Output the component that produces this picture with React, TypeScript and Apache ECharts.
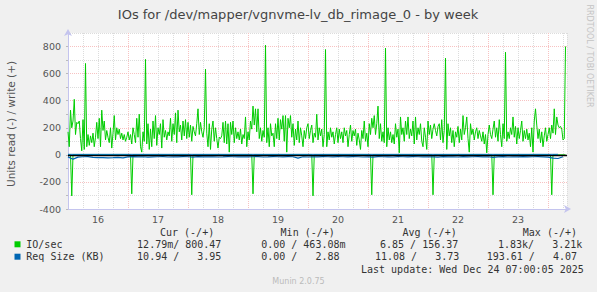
import React, { useEffect, useRef } from "react";
import * as echarts from "echarts";

const TITLE = "IOs for /dev/mapper/vgnvme-lv_db_rimage_0 - by week";
const Y_NAME = "Units read (-) / write (+)";
const dayLabels = ["16", "17", "18", "19", "20", "21", "22", "23"];
const yTickValues = [-400, -200, 0, 200, 400, 600, 800];

// IO/sec write (+), 30-minute samples starting Dec 16 00:00
const writeDay16 = [170, 60, 330, 200, 250, 410, 150, 240, 230, 250, 120, 30, 260, 40, 675, 60, 150, 70, 140, 90, 160, 60, 130, 240, 120, 270, 60, 330, 180, 250, 110, 180, 130, 90, 200, 50, 160, 290, 110, 200, 150, 190, 120, 160, 110, 150, 100, 130];
const writeDay17 = [170, 110, 150, 80, 200, 150, 90, 270, 130, 300, 60, 20, 170, 100, 705, 80, 230, 40, 190, 60, 250, 120, 290, 70, 200, 150, 230, 50, 260, 130, 180, 110, 170, 140, 270, 100, 230, 150, 310, 90, 330, 170, 220, 110, 250, 140, 260, 120];
const writeDay18 = [240, 130, 220, 100, 210, 170, 140, 230, 340, 150, 240, 170, 130, 200, 633, 160, 60, 230, 40, 190, 250, 100, 200, 120, 50, 130, 120, 140, 240, 90, 250, 80, 230, 20, 240, 150, 250, 90, 200, 120, 170, 110, 190, 80, 150, 120, 280, 60];
const writeDay19 = [170, 110, 250, 190, 360, 220, 340, 170, 340, 120, 200, 100, 180, 130, 810, 90, 200, 60, 230, 140, 160, 60, 230, 120, 270, 110, 260, 190, 290, 100, 290, 20, 270, 200, 290, 130, 230, 70, 190, 110, 250, 90, 200, 140, 60, 180, 120, 200];
const writeDay20 = [230, 120, 180, 220, 90, 160, 130, 300, 110, 200, 140, 190, 60, 150, 778, 60, 170, 110, 200, 130, 170, 80, 150, 200, 90, 190, 120, 170, 90, 200, 140, 180, 60, 150, 220, 100, 180, 140, 190, 70, 160, 110, 40, 180, 120, 250, 100, 160];
const writeDay21 = [60, 230, 150, 270, 200, 290, 150, 230, 360, 120, 230, 100, 170, 90, 788, 60, 200, 110, 170, 90, 150, 80, 230, 130, 190, 15, 280, 150, 200, 100, 250, 150, 280, 120, 190, 140, 250, 80, 280, 110, 200, 150, 230, 100, 60, 200, 130, 40];
const writeDay22 = [250, 150, 220, 120, 190, 230, 180, 140, 210, 230, 110, 260, 90, 180, 714, 40, 230, 140, 200, 90, 180, 60, 170, 130, 210, 90, 190, 110, 290, 150, 200, 280, 120, 20, 230, 150, 190, 110, 170, 200, 120, 180, 140, 100, 170, 80, 150, 15];
const writeDay23 = [150, 220, 150, 120, 190, 250, 130, 200, 100, 260, 150, 60, 230, 120, 758, 100, 170, 120, 200, 150, 280, 130, 210, 80, 200, 120, 180, 250, 100, 180, 120, 190, 110, 160, 60, 200, 20, 250, 340, 220, 120, 190, 90, 170, 60, 140, 200, 100];
const writeDay24 = [150, 200, 120, 220, 160, 340, 150, 280, 220, 200, 210, 190, 110, 120, 800.47];

// IO/sec read (-): zero except the nightly bursts
const readSpikeHours = [1.5, 25.5, 49.5, 74, 98, 121.5, 146, 170, 193.5];
const readSpikeValues = [303, 288, 295, 288, 303, 295, 295, 295, 295];

// Req Size (KB) read (-), 2-hour samples
const reqReadKB = [
  15, 32, 17, 14, 13, 19, 21, 20, 22, 21, 18, 22,
  15, 13, 15, 14, 17, 15, 14, 13, 16, 14, 15, 13,
  14, 17, 13, 15, 14, 15, 16, 15, 13, 14, 15, 14,
  15, 14, 13, 16, 15, 13, 14, 15, 13, 14, 24, 14,
  16, 15, 15, 13, 14, 15, 13, 14, 15, 13, 14, 16,
  15, 17, 13, 14, 15, 16, 13, 14, 15, 13, 14, 15,
  14, 15, 17, 13, 15, 14, 16, 13, 15, 14, 13, 15,
  14, 19, 15, 13, 16, 14, 15, 13, 15, 14, 13, 15,
  17, 24, 27, 14,
];
// Req Size (KB) write (+), 4-hour samples
const reqWriteKB = [
  3.8, 3.7, 3.6, 3.8, 3.7, 3.9, 3.8, 3.7, 3.6, 3.8, 3.7, 3.9, 3.8, 3.7, 3.6, 3.8, 3.7,
  3.9, 3.8, 3.7, 3.6, 3.8, 3.7, 3.9, 3.8, 3.7, 3.6, 3.8, 3.7, 3.9, 3.8, 3.7, 3.6, 3.8,
  3.7, 3.9, 3.8, 3.7, 3.6, 3.8, 3.7, 3.9, 3.8, 3.7, 3.6, 3.8, 3.7, 3.9, 3.8, 3.95,
];

const legendHeaders = ["Cur (-/+)", "Min (-/+)", "Avg (-/+)", "Max (-/+)"];
const legendNames = ["IO/sec", "Req Size (KB)"];
const ioStats = ["12.79m/ 800.47", "0.00 / 463.08m", "6.85 / 156.37", "1.83k/   3.21k"];
const reqStats = ["10.94 /   3.95", "0.00 /   2.88", "11.08 /   3.73", "193.61 /   4.07"];
const LAST_UPDATE = "Last update: Wed Dec 24 07:00:05 2025";
const FOOTER = "Munin 2.0.75";
const WATERMARK = "RRDTOOL / TOBI OETIKER";

const GREEN = "#00cc00";
const BLUE = "#0066b3";
const RED_GRID = "#f7c2c2";
const GRAY_GRID = "#dcdcdc";
const AXIS = "#c4c4ee";
const MONO = "'DejaVu Sans Mono', monospace";
const SANS = "'DejaVu Sans', sans-serif";

export default function App() {
  const ref = useRef<HTMLDivElement>(null);
  useEffect(() => {
    if (!ref.current) return;
    const chart = echarts.init(ref.current, undefined, { renderer: "svg" });

    const writeIO = [
      ...writeDay16, ...writeDay17, ...writeDay18, ...writeDay19,
      ...writeDay20, ...writeDay21, ...writeDay22, ...writeDay23, ...writeDay24,
    ];
    const writePts = writeIO.map((v, i) => [i * 0.5, v]);
    const readPts: number[][] = [[0, 0]];
    readSpikeHours.forEach((h, k) => {
      readPts.push([h - 0.5, 0], [h, -readSpikeValues[k]], [h + 0.5, 0]);
    });
    readPts.push([199, 0]);
    const reqReadPts = reqReadKB.map((v, i) => [i * 2, -v]);
    const reqWritePts = reqWriteKB.map((v, i) => [Math.min(i * 4, 199), v]);

    const txt = (text: string, x: number, y: number, font: string, fill: string, align = "left", rotation = 0) => ({
      type: "text",
      x,
      y,
      rotation,
      silent: true,
      style: { text, font, fill, align, verticalAlign: "middle", textAlign: align, textVerticalAlign: "middle" },
    });

    const legendFont = `10px ${MONO}`;
    const headerX = [160, 280.6, 402.5, 522.8];
    const ioX = [137.1, 261.2, 380, 498];
    const reqX = [137.1, 261.2, 375, 486.7];

    const graphics: any[] = [
      txt(TITLE, 298, 14, `13px ${SANS}`, "#444", "center"),
      txt(Y_NAME, 11, 124, `10.5px ${SANS}`, "#555", "center", Math.PI / 2),
      txt(WATERMARK, 589, 56, `8px ${SANS}`, "#c4c4c4", "center", -Math.PI / 2),
      ...legendHeaders.map((t, i) => txt(t, headerX[i], 232.5, legendFont, "#333")),
      { type: "rect", shape: { x: 14.5, y: 241.3, width: 6, height: 6 }, style: { fill: GREEN } },
      { type: "rect", shape: { x: 14.5, y: 253.7, width: 6, height: 6 }, style: { fill: BLUE } },
      txt(legendNames[0], 26.3, 244.3, legendFont, "#333"),
      txt(legendNames[1], 26.3, 256.7, legendFont, "#333"),
      ...ioStats.map((t, i) => txt(t, ioX[i], 244.3, legendFont, "#333")),
      ...reqStats.map((t, i) => txt(t, reqX[i], 256.7, legendFont, "#333")),
      txt(LAST_UPDATE, 361, 269, legendFont, "#333"),
      txt(FOOTER, 298.5, 281, `8px ${SANS}`, "#bbbbbb", "center"),
    ];

    chart.setOption({
      animation: false,
      backgroundColor: "#f0f0f0",
      grid: { left: 68, top: 33, width: 499, height: 176, show: true, backgroundColor: "#ffffff", borderWidth: 0 },
      xAxis: {
        type: "value",
        min: 0,
        max: 199.6,
        interval: 6,
        axisLine: {
          onZero: false,
          lineStyle: { color: AXIS, width: 1 },
          symbol: ["none", "arrow"],
          symbolSize: [6, 7],
          symbolOffset: [0, 4],
        },
        axisTick: { show: false },
        splitLine: { show: true, lineStyle: { color: [RED_GRID, GRAY_GRID, GRAY_GRID, GRAY_GRID], type: [1, 1], width: 1 } },
        axisLabel: {
          interval: 0,
          margin: 5,
          color: "#555",
          fontSize: 9.5,
          fontFamily: "DejaVu Sans",
          showMaxLabel: false,
          formatter: (v: number) => {
            const k = (v - 12) / 24;
            return Number.isInteger(k) && k >= 0 && k < dayLabels.length ? dayLabels[k] : "";
          },
        },
      },
      yAxis: {
        type: "value",
        min: -400,
        max: 900,
        interval: 100,
        axisLine: {
          show: true,
          onZero: false,
          lineStyle: { color: AXIS, width: 1 },
          symbol: ["none", "arrow"],
          symbolSize: [6, 7],
          symbolOffset: [0, 4],
        },
        axisTick: { show: true, length: 2, lineStyle: { color: "#bbb" } },
        splitLine: { show: true, lineStyle: { color: [RED_GRID, GRAY_GRID], type: [1, 1], width: 1 } },
        axisLabel: {
          margin: 7,
          color: "#555",
          fontSize: 9.5,
          fontFamily: "DejaVu Sans",
          formatter: (v: number) => (yTickValues.includes(v) ? String(v) : ""),
        },
      },
      series: [
        { name: "IO/sec write", type: "line", data: writePts, showSymbol: false, symbol: "none", lineStyle: { color: GREEN, width: 1 }, itemStyle: { color: GREEN }, z: 3 },
        { name: "IO/sec read", type: "line", data: readPts, showSymbol: false, symbol: "none", lineStyle: { color: GREEN, width: 1 }, itemStyle: { color: GREEN }, z: 3 },
        { name: "Req read", type: "line", data: reqReadPts, showSymbol: false, symbol: "none", lineStyle: { color: BLUE, width: 1.2 }, itemStyle: { color: BLUE }, z: 4 },
        {
          name: "Req write",
          type: "line",
          data: reqWritePts,
          showSymbol: false,
          symbol: "none",
          lineStyle: { color: BLUE, width: 1 },
          itemStyle: { color: BLUE },
          z: 5,
          markLine: {
            silent: true,
            symbol: ["none", "none"],
            label: { show: false },
            lineStyle: { color: "#000", width: 1.3, type: "solid" },
            data: [{ yAxis: 0 }],
          },
        },
      ],
      graphic: graphics,
    });
    return () => chart.dispose();
  }, []);
  return <div ref={ref} style={{ position: "absolute", left: 0, top: 0, width: 597, height: 292 }} />;
}
